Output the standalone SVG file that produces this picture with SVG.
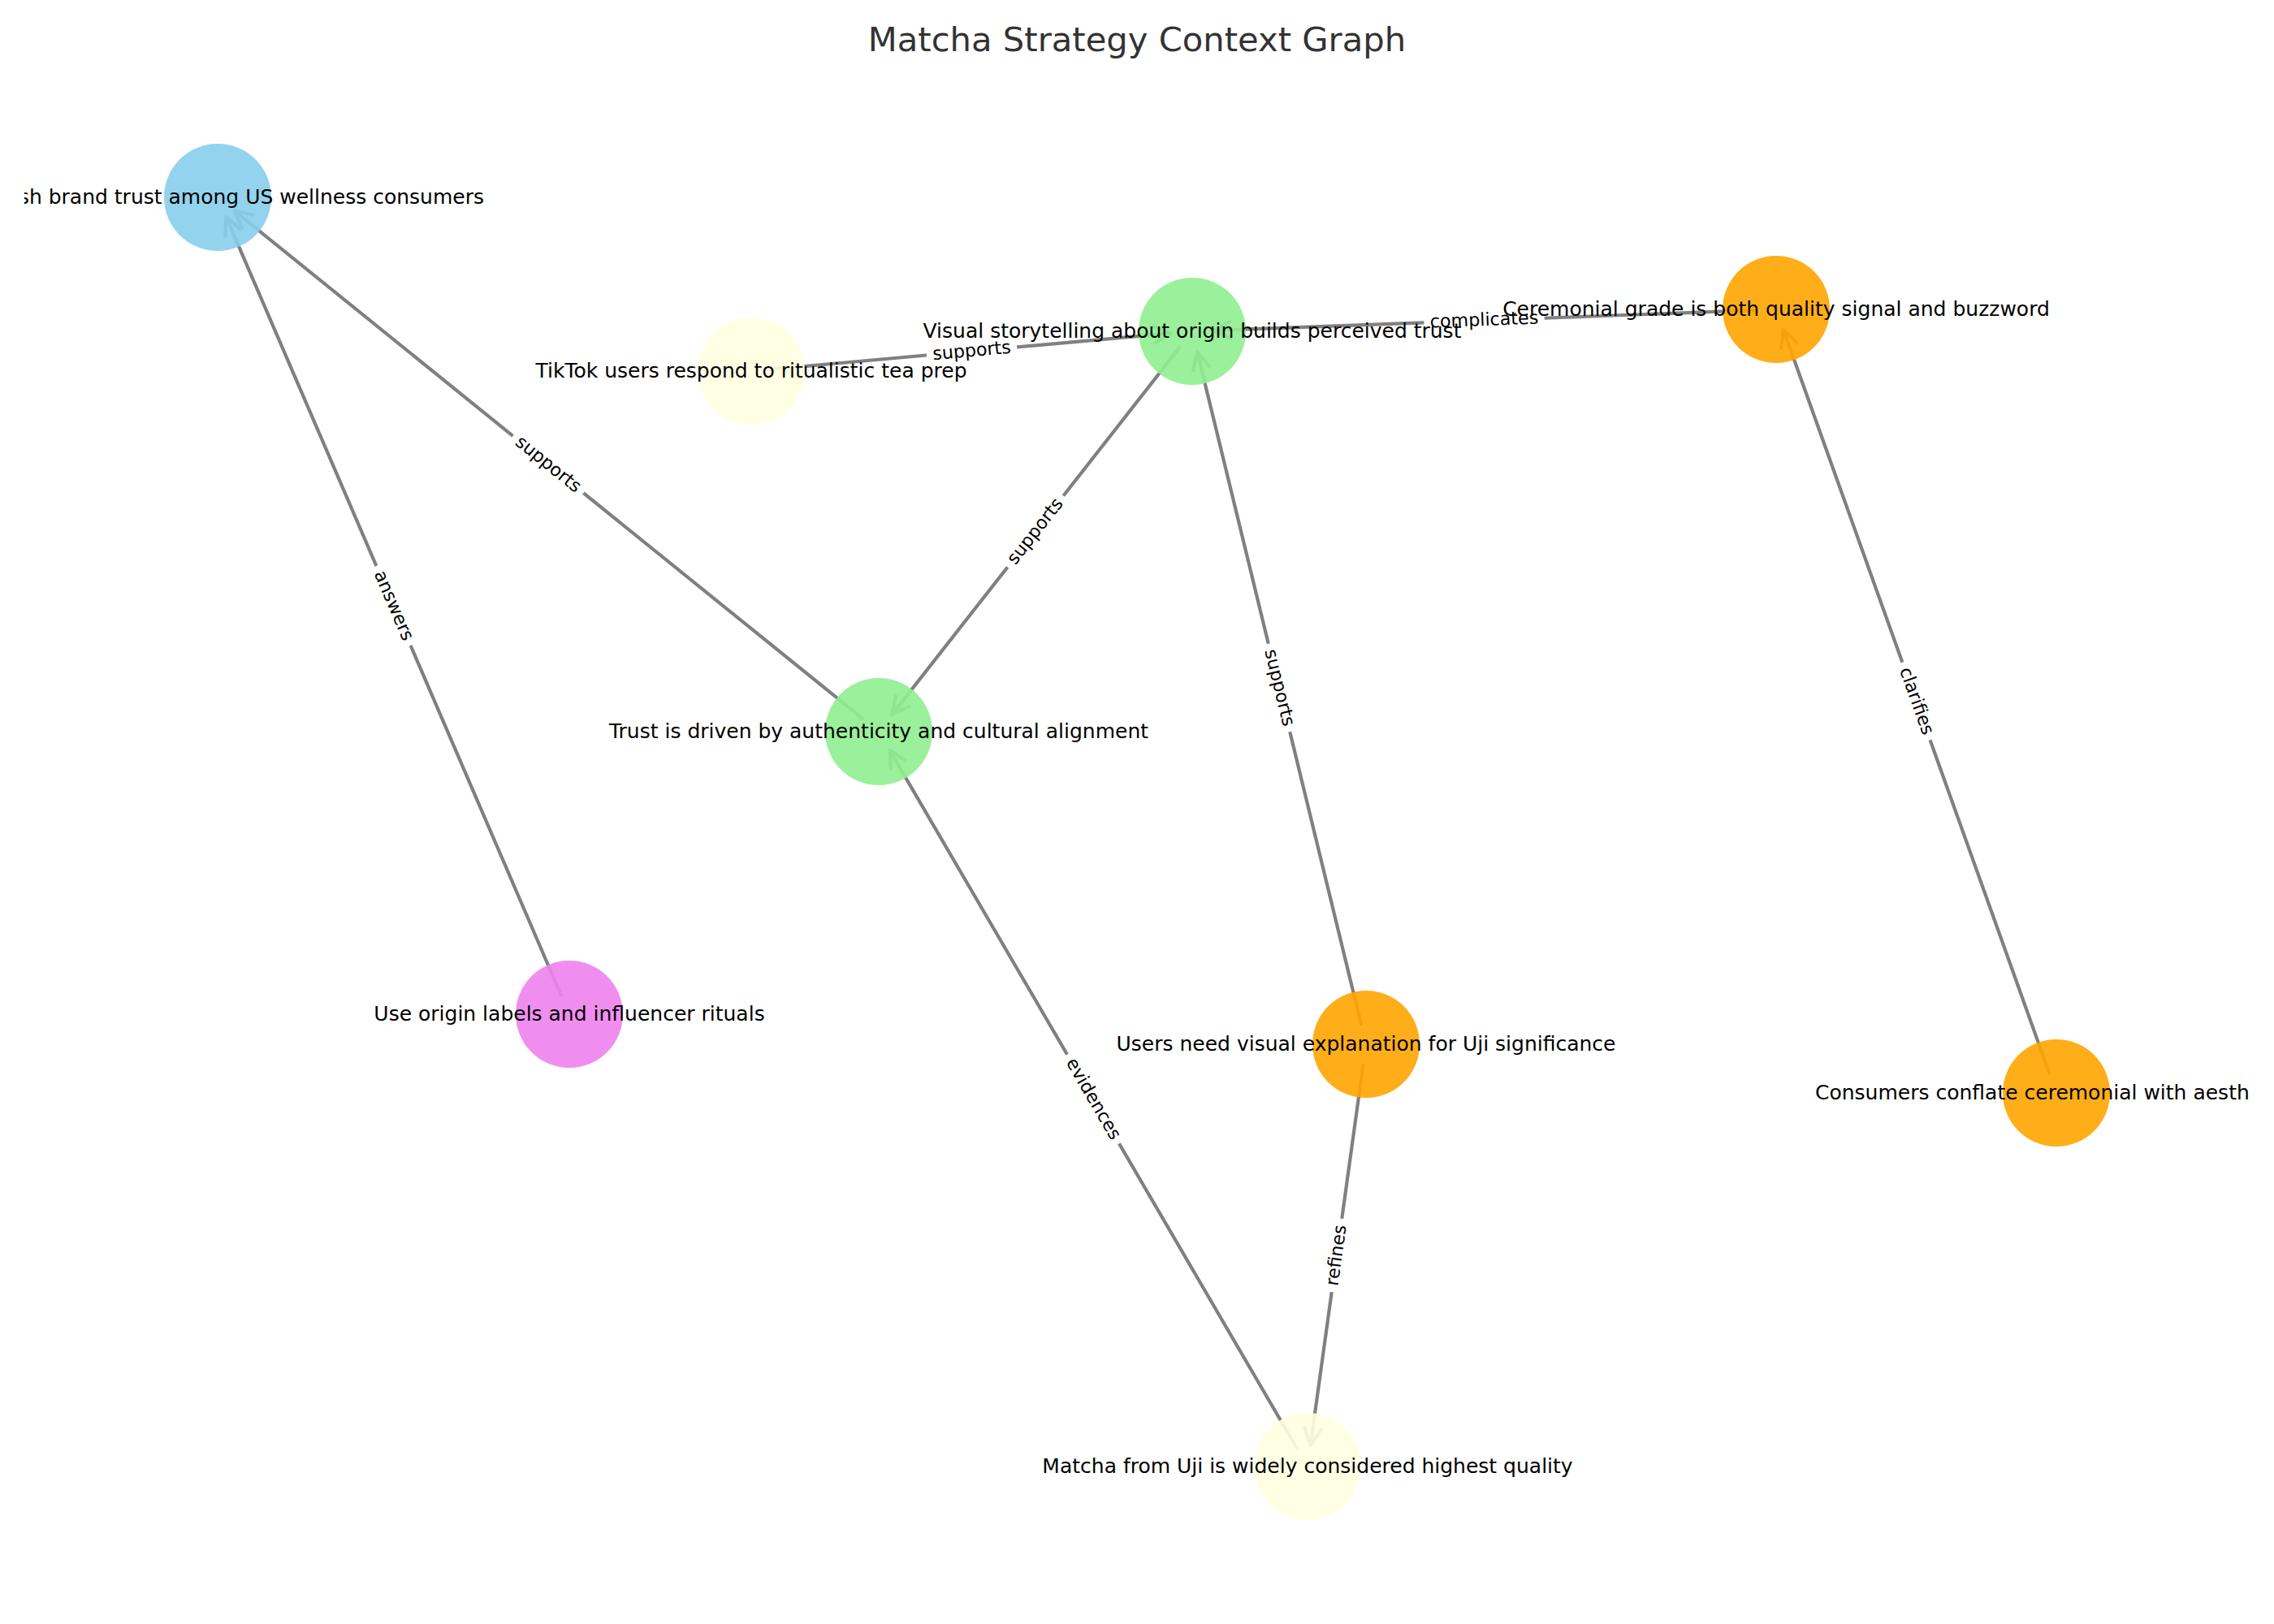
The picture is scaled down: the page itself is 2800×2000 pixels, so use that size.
<svg xmlns="http://www.w3.org/2000/svg" width="2800" height="2000" viewBox="0 0 2800 2000">
<style>
  .edge { fill: none; stroke: #808080; stroke-width: 4.2; stroke-linejoin: round; marker-end: url(#ah); }
  .elbox { fill: #ffffff; stroke: #ffffff; stroke-width: 1.5; }
  .eltext { font-family: "DejaVu Sans", sans-serif; font-size: 22.2px; fill: #000000; text-anchor: middle; }
  .node { fill-opacity: 0.9; stroke: none; }
  .nlabel { font-family: "DejaVu Sans", sans-serif; font-size: 25px; fill: #000000; text-anchor: middle; }
  .title { font-family: "DejaVu Sans", sans-serif; font-size: 41.7px; fill: #333333; text-anchor: middle; }
</style>
<defs>
  <marker id="ah" markerUnits="userSpaceOnUse" viewBox="-30 -16 36 32" markerWidth="36" markerHeight="32" refX="0" refY="0" orient="auto" overflow="visible">
    <path d="M-22.2,-11.1 L0,0 L-22.2,11.1" fill="none" stroke="#808080" stroke-width="4.2" stroke-linejoin="round"/>
  </marker>
  <clipPath id="axclip">
    <rect x="30" y="0" width="2740" height="2000"/>
  </clipPath>
</defs>
<rect x="0" y="0" width="2800" height="2000" fill="#ffffff"/>
<text class="title" x="1400" y="63">Matcha Strategy Context Graph</text>

<g id="connectors">
  <g id="e-trust-goal">
    <path class="edge" d="M1063.3,885.9 L288.6,259.7"/>
    <g transform="translate(675,572) rotate(38.95)">
      <rect class="elbox" x="-55.1" y="-19.5" width="110.2" height="39" rx="6.7"/>
      <text class="eltext" x="0" y="6.5">supports</text>
    </g>
  </g>
  <g id="e-action-goal">
    <path class="edge" d="M691.5,1227.0 L278.5,267.3"/>
    <g transform="translate(484.5,746) rotate(66.7)">
      <rect class="elbox" x="-52.6" y="-19.5" width="105.2" height="39" rx="6.7"/>
      <text class="eltext" x="0" y="6.5">answers</text>
    </g>
  </g>
  <g id="e-tiktok-visual">
    <path class="edge" d="M948.9,454.8 L1441.6,410.4"/>
    <g transform="translate(1196.5,432.5) rotate(-5.16)">
      <rect class="elbox" x="-55.1" y="-19.5" width="110.2" height="39" rx="6.7"/>
      <text class="eltext" x="0" y="6.5">supports</text>
    </g>
  </g>
  <g id="e-ceremonial-visual">
    <path class="edge" d="M2163.0,381.9 L1494.5,407.0"/>
    <g transform="translate(1827.5,394.5) rotate(-2.15)">
      <rect class="elbox" x="-73.5" y="-19.5" width="147" height="39" rx="6.7"/>
      <text class="eltext" x="0" y="6.5">complicates</text>
    </g>
  </g>
  <g id="e-visual-trust">
    <path class="edge" d="M1453.2,426.9 L1098.3,880.1"/>
    <g transform="translate(1275,654.5) rotate(-51.94)">
      <rect class="elbox" x="-55.1" y="-19.5" width="110.2" height="39" rx="6.7"/>
      <text class="eltext" x="0" y="6.5">supports</text>
    </g>
  </g>
  <g id="e-users-visual">
    <path class="edge" d="M1676.3,1262.7 L1474.3,433.7"/>
    <g transform="translate(1575,847) rotate(76.3)">
      <rect class="elbox" x="-55.1" y="-19.5" width="110.2" height="39" rx="6.7"/>
      <text class="eltext" x="0" y="6.5">supports</text>
    </g>
  </g>
  <g id="e-consumers-ceremonial">
    <path class="edge" d="M2523.9,1323.4 L2195.9,406.0"/>
    <g transform="translate(2359.5,863.5) rotate(70.33)">
      <rect class="elbox" x="-49.9" y="-19.5" width="99.8" height="39" rx="6.7"/>
      <text class="eltext" x="0" y="6.5">clarifies</text>
    </g>
  </g>
  <g id="e-matcha-trust">
    <path class="edge" d="M1597.9,1785.3 L1095.4,923.9"/>
    <g transform="translate(1346,1353.5) rotate(59.74)">
      <rect class="elbox" x="-62.8" y="-19.5" width="125.6" height="39" rx="6.7"/>
      <text class="eltext" x="0" y="6.5">evidences</text>
    </g>
  </g>
  <g id="e-users-matcha">
    <path class="edge" d="M1678.7,1309.8 L1613.6,1779.8"/>
    <g transform="translate(1646,1546) rotate(-82.1)">
      <rect class="elbox" x="-44.8" y="-19.5" width="89.6" height="39" rx="6.7"/>
      <text class="eltext" x="0" y="6.5">refines</text>
    </g>
  </g>
</g>

<g id="n-goal">
  <circle class="node" cx="268" cy="243" r="66" fill="#87CEEB"/>
  <text class="nlabel" x="596" y="250.5" style="text-anchor:end" clip-path="url(#axclip)">sh brand trust among US wellness consumers</text>
</g>
<g id="n-tiktok">
  <circle class="node" cx="925" cy="457" r="66" fill="#FFFFE0"/>
  <text class="nlabel" x="925" y="464.5">TikTok users respond to ritualistic tea prep</text>
</g>
<g id="n-visual">
  <circle class="node" cx="1468" cy="408" r="66" fill="#90EE90"/>
  <text class="nlabel" x="1468" y="415.5">Visual storytelling about origin builds perceived trust</text>
</g>
<g id="n-ceremonial">
  <circle class="node" cx="2187" cy="381" r="66" fill="#FFA500"/>
  <text class="nlabel" x="2187" y="388.5">Ceremonial grade is both quality signal and buzzword</text>
</g>
<g id="n-trust">
  <circle class="node" cx="1082" cy="901" r="66" fill="#90EE90"/>
  <text class="nlabel" x="1082" y="908.5">Trust is driven by authenticity and cultural alignment</text>
</g>
<g id="n-action">
  <circle class="node" cx="701" cy="1249" r="66" fill="#EE82EE"/>
  <text class="nlabel" x="701" y="1256.5">Use origin labels and influencer rituals</text>
</g>
<g id="n-users">
  <circle class="node" cx="1682" cy="1286" r="66" fill="#FFA500"/>
  <text class="nlabel" x="1682" y="1293.5">Users need visual explanation for Uji significance</text>
</g>
<g id="n-consumers">
  <circle class="node" cx="2532" cy="1346" r="66" fill="#FFA500"/>
  <text class="nlabel" x="2235" y="1353.5" style="text-anchor:start" clip-path="url(#axclip)">Consumers conflate ceremonial with aesth</text>
</g>
<g id="n-matcha">
  <circle class="node" cx="1610" cy="1806" r="66" fill="#FFFFE0"/>
  <text class="nlabel" x="1610" y="1813.5">Matcha from Uji is widely considered highest quality</text>
</g>
</svg>
